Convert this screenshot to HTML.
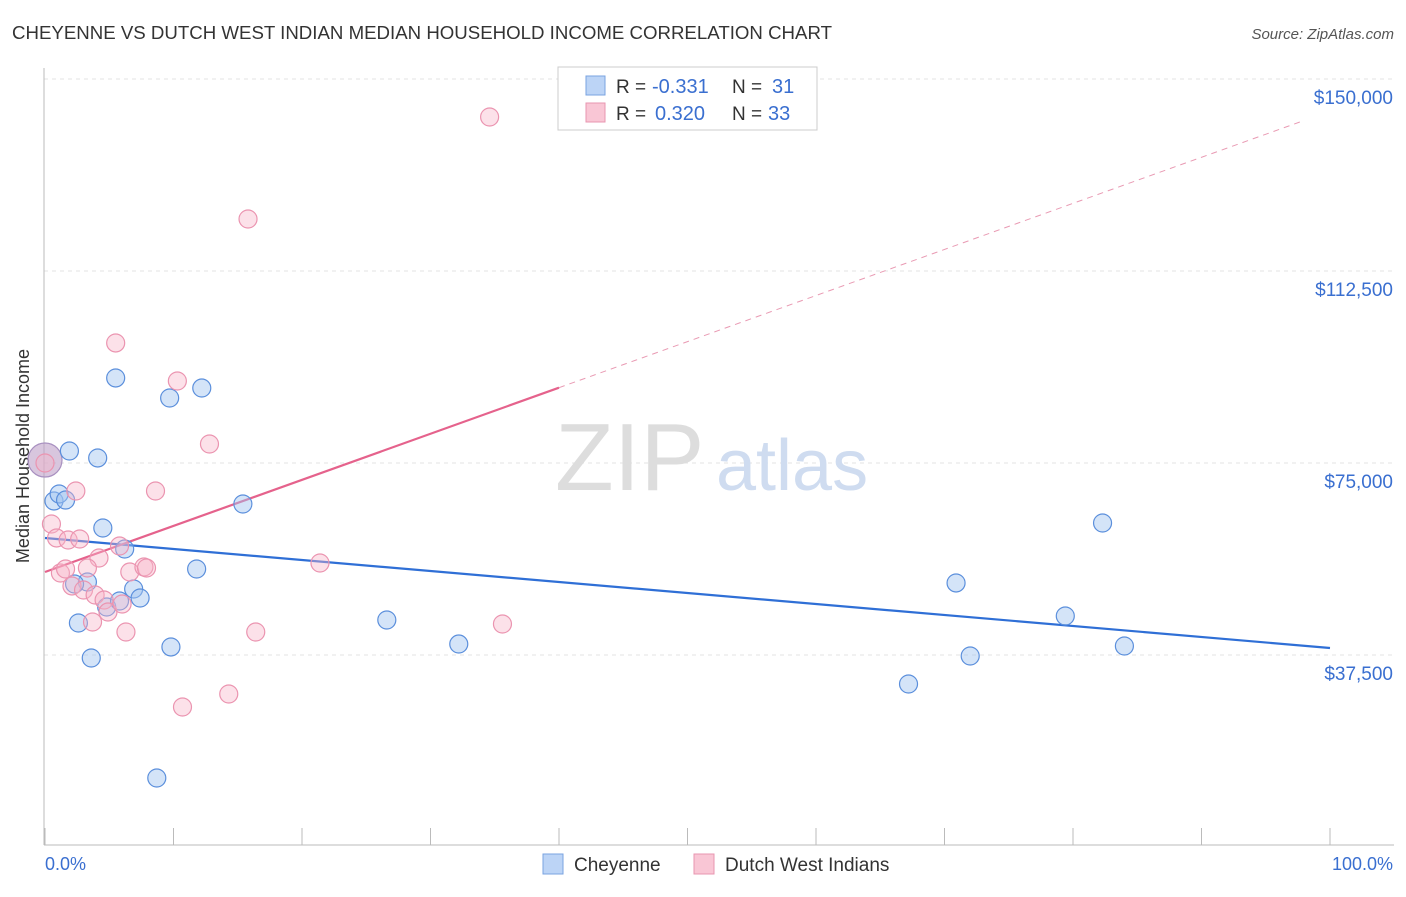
<!DOCTYPE html>
<html><head><meta charset="utf-8"><style>
body{margin:0;background:#fff;font-family:"Liberation Sans",sans-serif;}
svg text{font-family:"Liberation Sans",sans-serif;white-space:pre;}
</style></head><body>
<svg width="1406" height="892">
<text x="12" y="39" font-size="18" fill="#333" textLength="820" lengthAdjust="spacingAndGlyphs">CHEYENNE VS DUTCH WEST INDIAN MEDIAN HOUSEHOLD INCOME CORRELATION CHART</text>
<text x="1394" y="39" font-size="15" fill="#555" font-style="italic" text-anchor="end">Source: ZipAtlas.com</text>
<g id="grid"></g>
<text x="555" y="490" font-size="96" fill="#ddd" font-family="Liberation Serif">ZIP</text>
<text x="716" y="490" font-size="72" fill="#cfdcf0">atlas</text>
<line x1="44" y1="68" x2="44" y2="845" stroke="#bbb"/>
<line x1="44" y1="845" x2="1394" y2="845" stroke="#bbb"/>
<text x="29" y="456" font-size="18" fill="#333" text-anchor="middle" transform="rotate(-90 29 456)">Median Household Income</text>
<text x="45" y="870" font-size="18" fill="#3a6fd0">0.0%</text>
<text x="1393" y="870" font-size="18" fill="#3a6fd0" text-anchor="end">100.0%</text>
<g id="lines"></g><g id="pts"></g>
<g>
<rect x="558" y="67" width="259" height="63" fill="#fff" stroke="#ccc"/>
<rect x="586" y="76" width="19" height="19" fill="#bcd4f6" stroke="#7aa3e0"/>
<rect x="586" y="103" width="19" height="19" fill="#f9c6d5" stroke="#e896b0"/>
<text x="616" y="93" font-size="19" fill="#333">R =</text><text x="652" y="93" font-size="20" fill="#3a6fd0">-0.331</text>
<text x="732" y="93" font-size="19" fill="#333">N =</text><text x="772" y="93" font-size="20" fill="#3a6fd0">31</text>
<text x="616" y="120" font-size="19" fill="#333">R =</text><text x="655" y="120" font-size="20" fill="#3a6fd0">0.320</text>
<text x="732" y="120" font-size="19" fill="#333">N =</text><text x="768" y="120" font-size="20" fill="#3a6fd0">33</text>
</g>
<g>
<rect x="543" y="854" width="20" height="20" fill="#bcd4f6" stroke="#7aa3e0"/>
<text x="574" y="871" font-size="19" fill="#333">Cheyenne</text>
<rect x="694" y="854" width="20" height="20" fill="#f9c6d5" stroke="#e896b0"/>
<text x="725" y="871" font-size="19" fill="#333">Dutch West Indians</text>
</g>
</svg>
<script>
const yTicks=[37500,75000,112500,150000];
const yTickLabels=["$37,500","$75,000","$112,500","$150,000"];
const blueX=[0,0.7,1.1,1.6,1.9,4.1,5.5,4.5,6.2,3.3,2.6,3.6,4.8,5.8,6.9,7.4,9.7,12.2,9.8,11.8,15.4,8.7,26.6,32.2,67.2,70.9,72.0,79.4,82.3,84.0,2.3];
const blueY=[75586,67578,68945,67773,77344,75977,91602,62305,58203,51758,43750,36914,46875,48047,50391,48633,87695,89648,39063,54297,66992,13477,44336,39648,31836,51563,37305,45117,63281,39258,51367];
const pinkX=[34.6,15.8,5.5,10.3,12.8,8.6,2.4,0.5,0.9,1.8,2.7,1.2,1.6,4.2,5.8,3.3,2.1,3.0,3.9,4.6,4.9,6.0,3.7,6.3,6.6,7.7,16.4,21.4,35.6,14.3,10.7,7.9,0];
const pinkY=[142578,122656,98438,91016,78711,69531,69531,63086,60352,59961,60156,53516,54297,56445,58789,54492,50977,50195,49219,48242,45898,47461,43945,41992,53711,54688,41992,55469,43555,29883,27344,54492,75000];
const blueTrend=[60352,-214.85];
const pinkTrend=[53711,900];
const X=p=>45+p/100*1285, Y=v=>79+(150000-v)/37500*192;
const NS="http://www.w3.org/2000/svg";
function mk(t,a,par){const e=document.createElementNS(NS,t);for(const k in a)e.setAttribute(k,a[k]);document.getElementById(par).appendChild(e);return e;}
yTicks.forEach((v,i)=>{
 const l=mk('line',{x1:44,x2:1394,y1:Y(v),y2:Y(v),stroke:'#e3e3e3','stroke-dasharray':'4,4'},'grid');
 
 
 const t=mk('text',{x:1393,y:Y(v)+25,'font-size':19,fill:'#3a6fd0','text-anchor':'end'},'grid');
 t.textContent=yTickLabels[i];
 
 
});
for(let i=0;i<=10;i++){const t=mk('line',{x1:X(i*10),x2:X(i*10),y1:828,y2:845,stroke:'#bbb'},'grid');
 
 }
blueX.forEach((x,i)=>{const r=(i==0)?17:9;const c=mk('circle',{cx:X(x),cy:Y(blueY[i]),r:r,fill:i==0?'rgba(190,160,200,0.6)':'rgba(160,196,240,0.45)',stroke:i==0?'#a890c0':'#5b8fdc','stroke-width':1.2},'pts');
 
 });
pinkX.forEach((x,i)=>{const c=mk('circle',{cx:X(x),cy:Y(pinkY[i]),r:9,fill:'rgba(248,180,200,0.4)',stroke:'#eb94b0','stroke-width':1.2},'pts');
 
 });
const bl=mk('line',{x1:X(0),y1:Y(blueTrend[0]),x2:X(100),y2:Y(blueTrend[0]+blueTrend[1]*100),stroke:'#2f6fd6','stroke-width':2.2},'lines');


const pl=mk('line',{x1:X(0),y1:Y(pinkTrend[0]),x2:X(40),y2:Y(pinkTrend[0]+pinkTrend[1]*40),stroke:'#e5628c','stroke-width':2.2},'lines');


const pd=mk('line',{x1:X(40),y1:Y(pinkTrend[0]+pinkTrend[1]*40),x2:X(98),y2:Y(pinkTrend[0]+pinkTrend[1]*98),stroke:'#e99ab3','stroke-width':1,'stroke-dasharray':'6,5'},'lines');


</script>
</body></html>
